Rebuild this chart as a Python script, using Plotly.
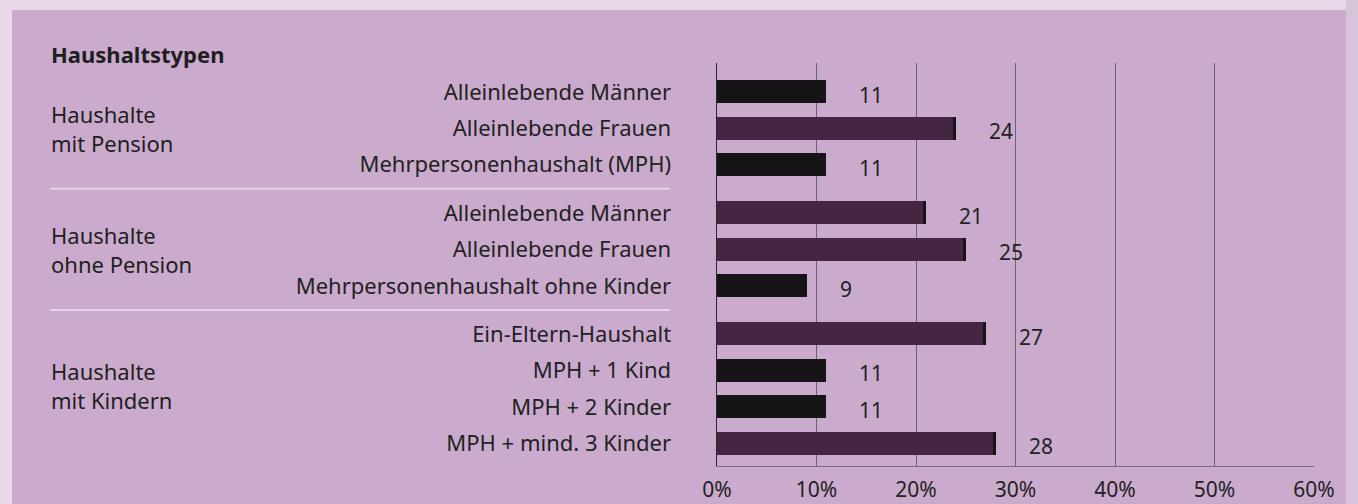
import plotly.graph_objects as go

# Kategorien je Gruppe
gruppen = ["Haushalte<br>mit Pension", "Haushalte<br>ohne Pension", "Haushalte<br>mit Kindern"]
kategorien = [
    ["Alleinlebende Männer", "Alleinlebende Frauen", "Mehrpersonenhaushalt (MPH)"],
    ["Alleinlebende Männer", "Alleinlebende Frauen", "Mehrpersonenhaushalt ohne Kinder"],
    ["Ein-Eltern-Haushalt", "MPH + 1 Kind", "MPH + 2 Kinder", "MPH + mind. 3 Kinder"],
]
werte = [
    [11, 24, 11],
    [21, 25, 9],
    [27, 11, 11, 28],
]
x_ticks = [0, 10, 20, 30, 40, 50, 60]
x_ticktext = ["0%", "10%", "20%", "30%", "40%", "50%", "60%"]

schwarz = "#161416"
lila = "#452541"
hintergrund = "#cbabcd"
rand = "#e9d8ea"
schrift = "Noto Sans"

# Positionen der Zeilen, mit etwas Abstand zwischen den Gruppen
luecke = 0.32
pos, labels, vals, grp_pos = [], [], [], []
i = 0
for g, (kat, w) in enumerate(zip(kategorien, werte)):
    start = i
    for k, v in zip(kat, w):
        pos.append(i + luecke * g)
        labels.append(k)
        vals.append(v)
        i += 1
    grp_pos.append((start + luecke * g, i - 1 + luecke * g))

farben = [schwarz if v < 15 else lila for v in vals]

fig = go.Figure()
fig.add_trace(go.Bar(
    x=vals, y=pos, orientation="h", width=0.63,
    marker=dict(color=farben, line=dict(width=0)),
    hoverinfo="skip",
))

# schwarze Kante am Ende der lila Balken
lila_v = [v for v in vals if v >= 15]
lila_p = [p for v, p in zip(vals, pos) if v >= 15]
fig.add_trace(go.Bar(
    x=[0.28] * len(lila_v), base=[v - 0.28 for v in lila_v], y=lila_p, orientation="h", width=0.63,
    marker=dict(color=schwarz, line=dict(width=0)), hoverinfo="skip",
))

# Werte neben den Balken
for v, p in zip(vals, pos):
    fig.add_annotation(x=v, y=p, text=str(v), showarrow=False, xanchor="left",
                       xshift=31, yshift=-3, font=dict(size=21, color="#222222", family=schrift))

# Gruppenbeschriftung links
px_l, px_r, px_t, px_b = 717, 1314, 63, 466
def paper_x(px):
    return (px - px_l) / (px_r - px_l)
def paper_y(py):
    return 1 - (py - px_t) / (px_b - px_t)

grp_mitte = [grp_pos[0][0] + 1, grp_pos[1][0] + 1, grp_pos[2][0] + 1.4]
for name, m in zip(gruppen, grp_mitte):
    fig.add_annotation(x=paper_x(49), xref="paper", y=m, yref="y", text=name, showarrow=False,
                       xanchor="left", yanchor="middle", align="left",
                       font=dict(size=22, color="#1e1e1e", family=schrift))

fig.add_annotation(x=paper_x(49), xref="paper", y=paper_y(54), yref="paper", text="<b>Haushaltstypen</b>",
                   showarrow=False, xanchor="left", yanchor="middle",
                   font=dict(size=22, color="#1e1e1e", family=schrift))

# Trennlinien zwischen den Gruppen
for g in range(len(grp_pos) - 1):
    y_sep = (grp_pos[g][1] + grp_pos[g + 1][0]) / 2
    fig.add_shape(type="line", xref="paper", yref="y", x0=paper_x(50), x1=paper_x(670),
                  y0=y_sep, y1=y_sep, line=dict(color="#e6d3e7", width=2))

# heller Scanrand oben, links und rechts
fig.add_shape(type="rect", xref="paper", yref="paper", x0=paper_x(-5), x1=paper_x(1365),
              y0=paper_y(10), y1=paper_y(-5), fillcolor=rand, line=dict(width=0), layer="below")
fig.add_shape(type="rect", xref="paper", yref="paper", x0=paper_x(-5), x1=paper_x(12),
              y0=paper_y(510), y1=paper_y(-5), fillcolor=rand, line=dict(width=0), layer="below")
fig.add_shape(type="rect", xref="paper", yref="paper", x0=paper_x(1346), x1=paper_x(1365),
              y0=paper_y(510), y1=paper_y(-5), fillcolor="#d8c4da", line=dict(width=0), layer="below")

fig.update_layout(
    width=1358, height=504,
    margin=dict(l=px_l, r=1358 - px_r, t=px_t, b=504 - px_b, autoexpand=False),
    paper_bgcolor=hintergrund, plot_bgcolor=hintergrund,
    showlegend=False, bargap=0, barmode="overlay",
    font=dict(family=schrift, size=22, color="#222222"),
)
fig.update_xaxes(
    range=[0, 60], tickvals=x_ticks, ticktext=x_ticktext, automargin=False,
    showgrid=True, gridcolor="#6f5f73", gridwidth=1,
    showline=True, linecolor="#7a6a7e", linewidth=1,
    zeroline=False, ticks="", ticklabelstandoff=5,
    tickfont=dict(size=21, color="#222222"), fixedrange=True,
)
fig.update_yaxes(
    range=[10.26, -0.79], tickvals=pos, ticktext=labels, automargin=False,
    showgrid=False, zeroline=False, showline=True, linecolor="#2a2a2a", linewidth=1.5,
    ticks="", ticklabelstandoff=40, tickfont=dict(size=22, color="#222222"), fixedrange=True,
)

fig.write_html("out.html", config={"displayModeBar": False, "staticPlot": True},
               post_script="document.body.style.margin='0';document.body.style.overflow='hidden';")
